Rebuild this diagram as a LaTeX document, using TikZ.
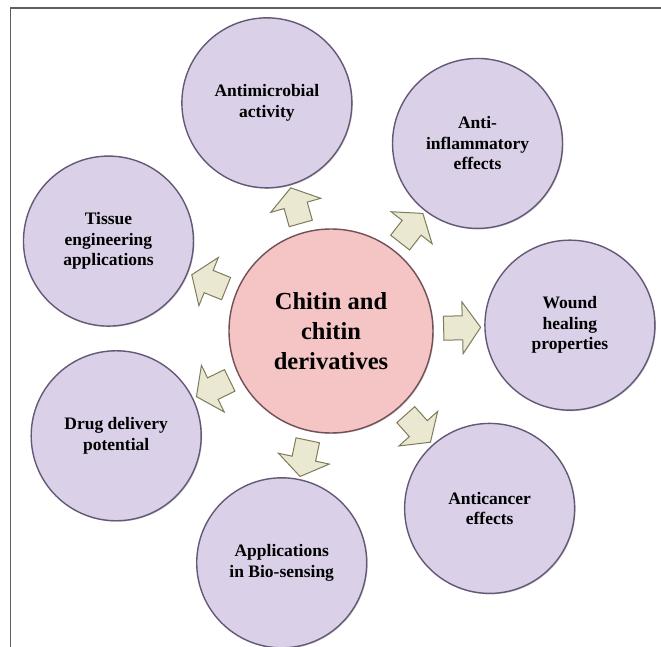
\documentclass[tikz,border=0pt]{standalone}
\usepackage{fontspec}
\setmainfont{Liberation Serif}
\usetikzlibrary{shapes.arrows,shadows}

\definecolor{lavender}{RGB}{218,208,232}
\definecolor{lavedge}{RGB}{100,88,118}
\definecolor{rosefill}{RGB}{245,196,197}
\definecolor{roseedge}{RGB}{112,80,86}
\definecolor{beige}{RGB}{234,232,208}
\definecolor{beigeedge}{RGB}{125,123,92}
\definecolor{framegray}{RGB}{95,95,95}

\begin{document}
\begin{tikzpicture}[%
    x=1pt,
    y=1pt,
    topic/.style={%
      circle,
      minimum size=170pt,
      inner sep=0pt,
      fill=lavender,
      draw=lavedge,
      line width=1.4pt,
      drop shadow={shadow xshift=1pt,shadow yshift=-1pt,opacity=0.35},
      align=center,
      font=\bfseries\fontsize{17.5}{20.5}\selectfont
    },
    hub/.style={%
      topic,
      minimum size=204pt,
      fill=rosefill,
      draw=roseedge,
      font=\bfseries\fontsize{24.5}{30}\selectfont
    },
    blockarrow/.style={%
      single arrow,
      single arrow tip angle=110,
      single arrow head extend=14pt,
      minimum height=37pt,
      inner xsep=0pt,
      inner ysep=11.5pt,
      fill=beige,
      draw=beigeedge,
      line width=1pt,
      sloped,
      allow upside down
    }
  ]
    \useasboundingbox (-331,-316) rectangle (330,331);
    \draw[framegray, line width=1.3pt] (330,323) -- (-320.5,323) -- (-320.5,-316);

    \node[hub] (chitin) at (0,0) {Chitin and\\chitin\\derivatives};
    \node[topic] (antimicro) at (105.7:237) {Antimicrobial\\activity};
    \node[topic] (antiinfl) at (52:238) {Anti-\\inflammatory\\effects};
    \node[topic] (wound) at (1.4:239) {Wound\\healing\\properties};
    \node[topic] (cancer) at (-48.2:238) {Anticancer\\effects};
    \node[topic] (biosens) at (-102:237) {Applications\\in Bio-sensing};
    \node[topic] (drug) at (-154:239) {Drug delivery\\potential};
    \node[topic] (tissue) at (158:240) {Tissue\\engineering\\applications};

    \foreach \target in {antimicro,antiinfl,wound,cancer,biosens,drug,tissue}
      \path (chitin) -- (\target) node[blockarrow, pos=0.48] {};
\end{tikzpicture}
\end{document}
